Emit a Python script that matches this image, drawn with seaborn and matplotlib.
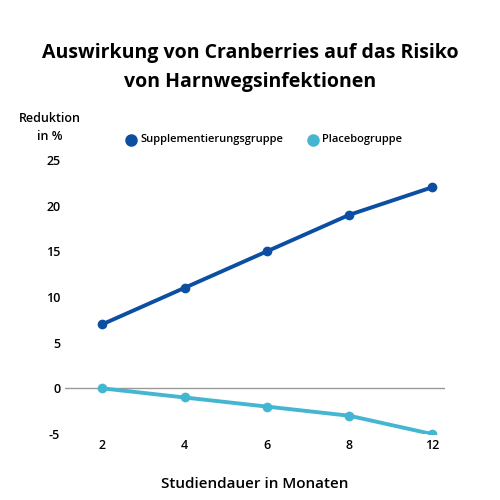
import matplotlib
matplotlib.use("Agg")
import matplotlib.pyplot as plt
import seaborn as sns
import pandas as pd

months = ["2", "4", "6", "8", "12"]
supplement = [7, 11, 15, 19, 22]
placebo = [0, -1, -2, -3, -5]
yticks = [-5, 0, 5, 10, 15, 20, 25]

sns.set_theme(style="white")
plt.rcParams['font.family'] = ['Open Sans', 'DejaVu Sans']
plt.rcParams['axes.unicode_minus'] = False
plt.rcParams['text.color'] = 'black'

df = pd.DataFrame({
    "Monat": months * 2,
    "Wert": supplement + placebo,
    "Gruppe": ["Supplementierungsgruppe"] * 5 + ["Placebogruppe"] * 5,
})
df["x"] = list(range(5)) * 2

fig = plt.figure(figsize=(5, 5), dpi=100)
ax = fig.add_axes([0.13, 0.132, 0.76, 0.548])
ax.axhline(0, color="#999999", lw=1, zorder=0)
sns.lineplot(data=df, x="x", y="Wert", hue="Gruppe",
             palette={"Supplementierungsgruppe": "#0B4EA2", "Placebogruppe": "#45B6D2"},
             marker="o", markersize=7, markeredgewidth=0, linewidth=2.8, ax=ax, legend=False)
ax.set_xlim(-0.45, 4.16)
ax.set_ylim(-5, 25)
ax.set_xticks(range(5))
ax.set_xticklabels(months)
ax.set_yticks(yticks)
for s in ax.spines.values():
    s.set_visible(False)
ax.tick_params(length=0, labelsize=9, labelcolor="black")
for lab in ax.get_xticklabels() + ax.get_yticklabels():
    lab.set_fontweight("semibold")
ax.set_xlabel("Studiendauer in Monaten", fontsize=11, fontweight="semibold", labelpad=18,
              color="black")
ax.set_ylabel("")

fig.text(0.5, 0.865, "Auswirkung von Cranberries auf das Risiko\nvon Harnwegsinfektionen",
         ha="center", va="center", fontsize=14, fontweight="bold", linespacing=1.55)
fig.text(0.1, 0.745, "Reduktion\nin %", ha="center", va="center", fontsize=9,
         fontweight="semibold", linespacing=1.5)

fig.lines.append(plt.Line2D([0.262], [0.721], marker="o", color="#0B4EA2", markersize=8,
                            transform=fig.transFigure, linestyle=""))
fig.text(0.28, 0.721, "Supplementierungsgruppe", va="center", fontsize=8, fontweight="semibold")
fig.lines.append(plt.Line2D([0.626], [0.721], marker="o", color="#45B6D2", markersize=8,
                            transform=fig.transFigure, linestyle=""))
fig.text(0.644, 0.721, "Placebogruppe", va="center", fontsize=8, fontweight="semibold")

fig.savefig("out.png", dpi=100)
